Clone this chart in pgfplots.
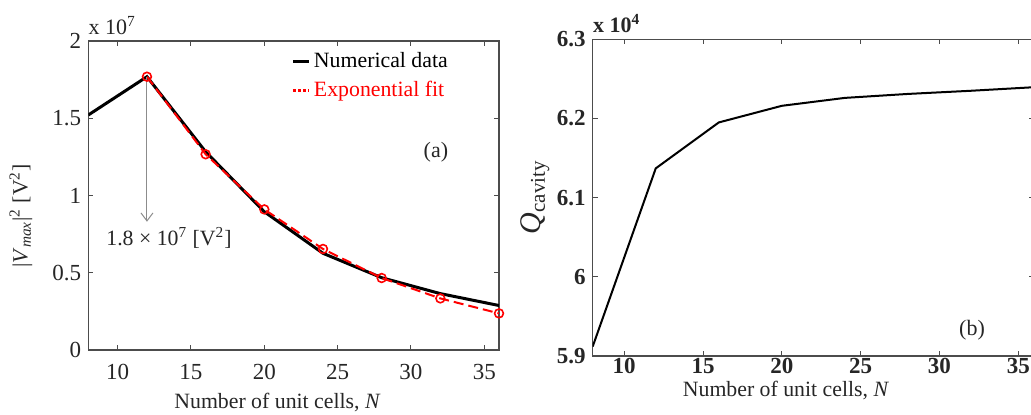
\documentclass[border=0pt]{standalone}
\usepackage{fontspec}
\setmainfont{Liberation Serif}
\usepackage{pgfplots}
\pgfplotsset{compat=1.18}
\usetikzlibrary{arrows.meta}

\pgfplotsset{
  mystyle/.style={
    scale only axis,
    xmin=8, xmax=36,
    xtick={10,15,20,25,30,35},
    scaled y ticks=false,
    tick align=inside, major tick length=2.5pt,
    axis line style={black!70, line width=0.6pt},
    every tick/.style={black!70, line width=0.5pt},
    /pgf/number format/assume math mode=true,
    xlabel={Number of unit cells, \textit{N}},
  }
}

\begin{document}
\begin{tikzpicture}
\begin{axis}[
  mystyle,
  name=left, at={(44.15pt,32pt)}, anchor=south west,
  width=205.35pt, height=154.5pt,
  ymin=0, ymax=2,
  ytick={0,0.5,1,1.5,2},
  ticklabel style={font=\fontsize{11.5}{13}\selectfont, text=black!85},
  xticklabel style={yshift=-3.5pt},
  xlabel style={at={(axis description cs:0.4607,-0.19)}, anchor=base, font=\fontsize{10.9}{12}\selectfont, text=black!85},
  ylabel={|\textit{V}\textsubscript{\textit{max}}|\textsuperscript{2} [V\textsuperscript{2}]},
  ylabel style={at={(axis description cs:-0.1639,0.434)}, anchor=center, font=\fontsize{10.9}{12}\selectfont, text=black!85},
  legend style={at={(axis description cs:0.495,0.975)}, anchor=north west, draw=none, fill=none,
    font=\fontsize{10.9}{12}\selectfont, row sep=2pt, inner sep=0pt,
    nodes={inner sep=1.5pt, text height=7.5pt, text depth=2pt}},
  legend cell align=left,
  legend image code/.code={\draw[#1] (0pt,0pt) -- (8pt,0pt);},
]
\addplot[black, line width=1.5pt] coordinates {
  (8,1.521) (12,1.769) (16,1.283) (20,0.895) (24,0.626) (28,0.468) (32,0.365) (36,0.288)
};
\addlegendentry{Numerical data}
\addplot[red, line width=1pt, dash pattern=on 5pt off 2.5pt, mark=o, mark size=2.2pt,
  mark options={solid, line width=0.8pt},
  legend image code/.code={\draw[red, line width=1.3pt, dash pattern=on 1.5pt off 1pt] (0pt,0pt) -- (8pt,0pt);}] coordinates {
  (12,1.769) (16,1.267) (20,0.910) (24,0.654) (28,0.466) (32,0.334) (36,0.237)
};
\addlegendentry{\textcolor{red}{Exponential fit}}
\draw[-{Straight Barb[length=4pt,width=6pt]}, black!45, line width=0.5pt] (axis cs:12,1.769) -- (axis cs:12,0.83);
\node[font=\fontsize{10.9}{12}\selectfont, text=black!85] at (axis cs:13.5,0.725) {1.8 × 10\textsuperscript{7} [V\textsuperscript{2}]};
\node[font=\fontsize{11}{12}\selectfont, text=black!85] at (axis cs:31.7,1.28) {(a)};
\end{axis}
\node[anchor=base west, inner sep=0pt, font=\fontsize{11}{12}\selectfont, text=black!85] at ([yshift=3.5pt]left.north west) {x 10\textsuperscript{7}};

\begin{axis}[
  mystyle,
  name=right, at={(296.35pt,29pt)}, anchor=south west,
  width=220.65pt, height=158.35pt,
  ymin=5.9, ymax=6.3,
  ytick={5.9,6,6.1,6.2,6.3},
  ticklabel style={font=\fontsize{11.5}{13}\selectfont\bfseries, text=black!85},
  xticklabel style={yshift=2.5pt},
  xlabel style={at={(axis description cs:0.438,-0.129)}, anchor=base, font=\fontsize{10.9}{12}\selectfont, text=black!85},
  ylabel={\textit{Q}\textsubscript{cavity}},
  ylabel style={at={(axis description cs:-0.1307,0.502)}, anchor=center, font=\fontsize{15}{18}\selectfont, text=black!85},
]
\addplot[black, line width=1pt] coordinates {
  (8,5.912) (12,6.137) (16,6.195) (20,6.216) (24,6.226) (28,6.231) (32,6.235) (36,6.2395)
};
\node[font=\fontsize{11}{12}\selectfont, text=black!85] at (axis cs:32.07,5.933) {(b)};
\end{axis}
\node[anchor=base west, inner sep=0pt, font=\fontsize{11}{12}\selectfont\bfseries, text=black!85] at ([yshift=3.5pt]right.north west) {x 10\textsuperscript{4}};

\pgfresetboundingbox
\path[use as bounding box] (0,0) rectangle (515.5pt,207pt);
\end{tikzpicture}
\end{document}
